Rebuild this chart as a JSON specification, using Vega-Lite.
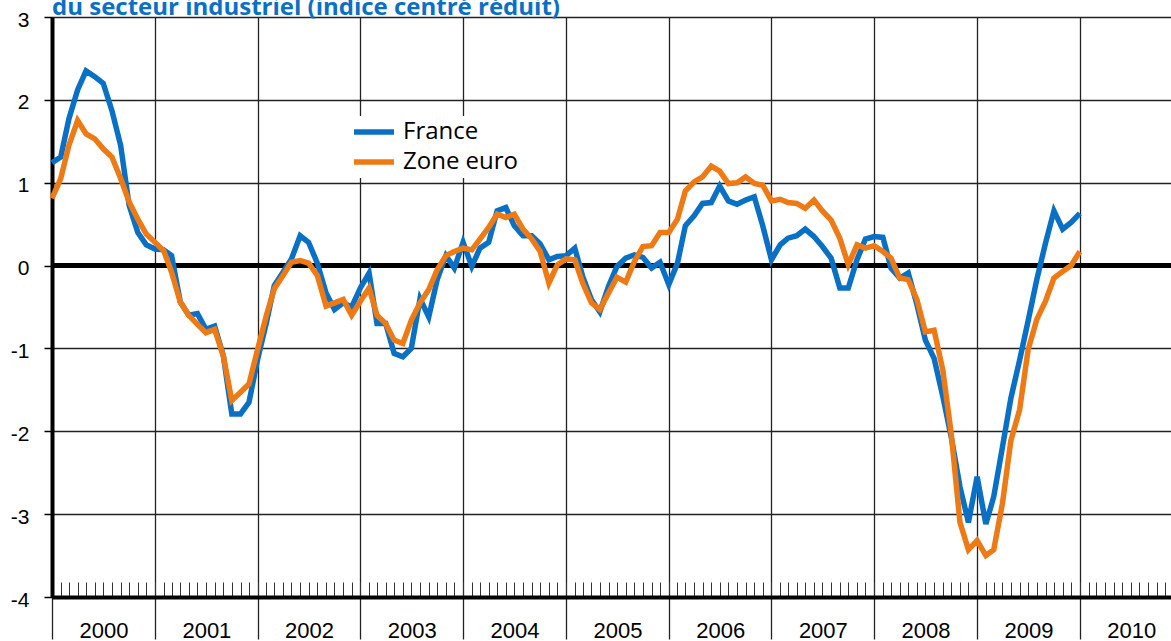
{
  "$schema": "https://vega.github.io/schema/vega-lite/v6.json",
  "width": 1119,
  "height": 580,
  "autosize": "none",
  "padding": {"left": 52, "top": 17, "right": 0, "bottom": 44},
  "background": "white",
  "config": {"view": {"stroke": null}},
  "title": {
    "text": "du secteur industriel (indice centré réduit)",
    "anchor": "start",
    "frame": "group",
    "color": "#0A70C6",
    "font": "Open Sans",
    "fontSize": 24,
    "fontWeight": "bold",
    "offset": 0,
    "dy": 11
  },
  "data": {
    "values": [
      {"d": "2000-01-01", "France": 1.24, "Zone euro": 0.81},
      {"d": "2000-02-01", "France": 1.31, "Zone euro": 1.05},
      {"d": "2000-03-01", "France": 1.77, "Zone euro": 1.45},
      {"d": "2000-04-01", "France": 2.12, "Zone euro": 1.75},
      {"d": "2000-05-01", "France": 2.35, "Zone euro": 1.59},
      {"d": "2000-06-01", "France": 2.28, "Zone euro": 1.53},
      {"d": "2000-07-01", "France": 2.20, "Zone euro": 1.41},
      {"d": "2000-08-01", "France": 1.87, "Zone euro": 1.31},
      {"d": "2000-09-01", "France": 1.45, "Zone euro": 1.05},
      {"d": "2000-10-01", "France": 0.73, "Zone euro": 0.77},
      {"d": "2000-11-01", "France": 0.40, "Zone euro": 0.56},
      {"d": "2000-12-01", "France": 0.25, "Zone euro": 0.38},
      {"d": "2001-01-01", "France": 0.20, "Zone euro": 0.28},
      {"d": "2001-02-01", "France": 0.19, "Zone euro": 0.18},
      {"d": "2001-03-01", "France": 0.12, "Zone euro": -0.08},
      {"d": "2001-04-01", "France": -0.44, "Zone euro": -0.44},
      {"d": "2001-05-01", "France": -0.60, "Zone euro": -0.60},
      {"d": "2001-06-01", "France": -0.58, "Zone euro": -0.71},
      {"d": "2001-07-01", "France": -0.77, "Zone euro": -0.81},
      {"d": "2001-08-01", "France": -0.73, "Zone euro": -0.77},
      {"d": "2001-09-01", "France": -1.09, "Zone euro": -1.09},
      {"d": "2001-10-01", "France": -1.79, "Zone euro": -1.63},
      {"d": "2001-11-01", "France": -1.79, "Zone euro": -1.53},
      {"d": "2001-12-01", "France": -1.65, "Zone euro": -1.43},
      {"d": "2002-01-01", "France": -1.13, "Zone euro": -1.01},
      {"d": "2002-02-01", "France": -0.69, "Zone euro": -0.60},
      {"d": "2002-03-01", "France": -0.24, "Zone euro": -0.28},
      {"d": "2002-04-01", "France": -0.08, "Zone euro": -0.12},
      {"d": "2002-05-01", "France": 0.08, "Zone euro": 0.04},
      {"d": "2002-06-01", "France": 0.36, "Zone euro": 0.06},
      {"d": "2002-07-01", "France": 0.28, "Zone euro": 0.03},
      {"d": "2002-08-01", "France": 0.03, "Zone euro": -0.12},
      {"d": "2002-09-01", "France": -0.33, "Zone euro": -0.49},
      {"d": "2002-10-01", "France": -0.53, "Zone euro": -0.45},
      {"d": "2002-11-01", "France": -0.45, "Zone euro": -0.41},
      {"d": "2002-12-01", "France": -0.50, "Zone euro": -0.60},
      {"d": "2003-01-01", "France": -0.27, "Zone euro": -0.43},
      {"d": "2003-02-01", "France": -0.09, "Zone euro": -0.27},
      {"d": "2003-03-01", "France": -0.70, "Zone euro": -0.60},
      {"d": "2003-04-01", "France": -0.70, "Zone euro": -0.70},
      {"d": "2003-05-01", "France": -1.06, "Zone euro": -0.90},
      {"d": "2003-06-01", "France": -1.10, "Zone euro": -0.94},
      {"d": "2003-07-01", "France": -1.00, "Zone euro": -0.66},
      {"d": "2003-08-01", "France": -0.40, "Zone euro": -0.45},
      {"d": "2003-09-01", "France": -0.62, "Zone euro": -0.29},
      {"d": "2003-10-01", "France": -0.17, "Zone euro": -0.05},
      {"d": "2003-11-01", "France": 0.12, "Zone euro": 0.12},
      {"d": "2003-12-01", "France": -0.03, "Zone euro": 0.17},
      {"d": "2004-01-01", "France": 0.28, "Zone euro": 0.21},
      {"d": "2004-02-01", "France": -0.01, "Zone euro": 0.19},
      {"d": "2004-03-01", "France": 0.21, "Zone euro": 0.32},
      {"d": "2004-04-01", "France": 0.28, "Zone euro": 0.46},
      {"d": "2004-05-01", "France": 0.66, "Zone euro": 0.62},
      {"d": "2004-06-01", "France": 0.70, "Zone euro": 0.58},
      {"d": "2004-07-01", "France": 0.48, "Zone euro": 0.62},
      {"d": "2004-08-01", "France": 0.36, "Zone euro": 0.44},
      {"d": "2004-09-01", "France": 0.36, "Zone euro": 0.32},
      {"d": "2004-10-01", "France": 0.26, "Zone euro": 0.17},
      {"d": "2004-11-01", "France": 0.07, "Zone euro": -0.21},
      {"d": "2004-12-01", "France": 0.11, "Zone euro": 0.01},
      {"d": "2005-01-01", "France": 0.12, "Zone euro": 0.08},
      {"d": "2005-02-01", "France": 0.21, "Zone euro": 0.07},
      {"d": "2005-03-01", "France": -0.13, "Zone euro": -0.21},
      {"d": "2005-04-01", "France": -0.41, "Zone euro": -0.45},
      {"d": "2005-05-01", "France": -0.56, "Zone euro": -0.53},
      {"d": "2005-06-01", "France": -0.25, "Zone euro": -0.33},
      {"d": "2005-07-01", "France": -0.01, "Zone euro": -0.14},
      {"d": "2005-08-01", "France": 0.09, "Zone euro": -0.20},
      {"d": "2005-09-01", "France": 0.13, "Zone euro": 0.05},
      {"d": "2005-10-01", "France": 0.10, "Zone euro": 0.23},
      {"d": "2005-11-01", "France": -0.03, "Zone euro": 0.24},
      {"d": "2005-12-01", "France": 0.04, "Zone euro": 0.40},
      {"d": "2006-01-01", "France": -0.23, "Zone euro": 0.40},
      {"d": "2006-02-01", "France": 0.03, "Zone euro": 0.56},
      {"d": "2006-03-01", "France": 0.48, "Zone euro": 0.90},
      {"d": "2006-04-01", "France": 0.60, "Zone euro": 1.01},
      {"d": "2006-05-01", "France": 0.75, "Zone euro": 1.07},
      {"d": "2006-06-01", "France": 0.76, "Zone euro": 1.20},
      {"d": "2006-07-01", "France": 0.96, "Zone euro": 1.14},
      {"d": "2006-08-01", "France": 0.78, "Zone euro": 0.99},
      {"d": "2006-09-01", "France": 0.74, "Zone euro": 1.00},
      {"d": "2006-10-01", "France": 0.79, "Zone euro": 1.07},
      {"d": "2006-11-01", "France": 0.83, "Zone euro": 0.99},
      {"d": "2006-12-01", "France": 0.48, "Zone euro": 0.97},
      {"d": "2007-01-01", "France": 0.07, "Zone euro": 0.78},
      {"d": "2007-02-01", "France": 0.25, "Zone euro": 0.80},
      {"d": "2007-03-01", "France": 0.33, "Zone euro": 0.76},
      {"d": "2007-04-01", "France": 0.36, "Zone euro": 0.75},
      {"d": "2007-05-01", "France": 0.44, "Zone euro": 0.69},
      {"d": "2007-06-01", "France": 0.35, "Zone euro": 0.79},
      {"d": "2007-07-01", "France": 0.23, "Zone euro": 0.66},
      {"d": "2007-08-01", "France": 0.09, "Zone euro": 0.55},
      {"d": "2007-09-01", "France": -0.27, "Zone euro": 0.33},
      {"d": "2007-10-01", "France": -0.27, "Zone euro": 0.01},
      {"d": "2007-11-01", "France": 0.07, "Zone euro": 0.25},
      {"d": "2007-12-01", "France": 0.32, "Zone euro": 0.21},
      {"d": "2008-01-01", "France": 0.35, "Zone euro": 0.24},
      {"d": "2008-02-01", "France": 0.34, "Zone euro": 0.17},
      {"d": "2008-03-01", "France": -0.03, "Zone euro": 0.09},
      {"d": "2008-04-01", "France": -0.15, "Zone euro": -0.15},
      {"d": "2008-05-01", "France": -0.09, "Zone euro": -0.17},
      {"d": "2008-06-01", "France": -0.47, "Zone euro": -0.41},
      {"d": "2008-07-01", "France": -0.90, "Zone euro": -0.80},
      {"d": "2008-08-01", "France": -1.12, "Zone euro": -0.78},
      {"d": "2008-09-01", "France": -1.58, "Zone euro": -1.26},
      {"d": "2008-10-01", "France": -2.07, "Zone euro": -2.03},
      {"d": "2008-11-01", "France": -2.67, "Zone euro": -3.10},
      {"d": "2008-12-01", "France": -3.10, "Zone euro": -3.43},
      {"d": "2009-01-01", "France": -2.55, "Zone euro": -3.32},
      {"d": "2009-02-01", "France": -3.12, "Zone euro": -3.50},
      {"d": "2009-03-01", "France": -2.79, "Zone euro": -3.43},
      {"d": "2009-04-01", "France": -2.19, "Zone euro": -2.87},
      {"d": "2009-05-01", "France": -1.60, "Zone euro": -2.11},
      {"d": "2009-06-01", "France": -1.14, "Zone euro": -1.74},
      {"d": "2009-07-01", "France": -0.67, "Zone euro": -1.02},
      {"d": "2009-08-01", "France": -0.17, "Zone euro": -0.65},
      {"d": "2009-09-01", "France": 0.27, "Zone euro": -0.43},
      {"d": "2009-10-01", "France": 0.66, "Zone euro": -0.15},
      {"d": "2009-11-01", "France": 0.44, "Zone euro": -0.07},
      {"d": "2009-12-01", "France": 0.52, "Zone euro": 0.00},
      {"d": "2010-01-01", "France": 0.63, "Zone euro": 0.17}
    ]
  },
  "layer": [
    {
      "mark": {"type": "rule", "color": "black", "strokeWidth": 4},
      "encoding": {
        "x": {
          "datum": {"year": 2000, "month": 1, "date": 1, "utc": true},
          "type": "temporal",
          "scale": {"type": "utc", "domain": [{"year": 2000, "month": 1, "date": 1, "utc": true}, {"year": 2010, "month": 11, "date": 21, "utc": true}]},
          "axis": {
            "orient": "bottom",
            "offset": -15,
            "domain": false,
            "grid": false,
            "labels": false,
            "ticks": true,
            "tickCount": {"interval": "month", "step": 1},
            "tickSize": 15,
            "tickColor": "#333333",
            "tickWidth": 1,
            "title": null
          }
        },
        "x2": {"datum": {"year": 2010, "month": 11, "date": 21, "utc": true}},
        "y": {"datum": 0, "type": "quantitative"}
      }
    },
    {
      "transform": [{"fold": ["France", "Zone euro"], "as": ["serie", "valeur"]}],
      "mark": {"type": "line", "strokeWidth": 5.5},
      "encoding": {
        "x": {
          "field": "d",
          "type": "temporal",
          "scale": {"type": "utc", "domain": [{"year": 2000, "month": 1, "date": 1, "utc": true}, {"year": 2010, "month": 11, "date": 21, "utc": true}]},
          "axis": {
            "orient": "bottom",
            "title": null,
            "format": "%Y",
            "formatType": "utc",
            "tickCount": {"interval": "year", "step": 1},
            "domain": true,
            "domainColor": "black",
            "domainWidth": 4,
            "grid": true,
            "gridColor": "#222222",
            "gridWidth": 1.3,
            "ticks": true,
            "tickSize": 42,
            "tickColor": "#222222",
            "tickWidth": 1.3,
            "labelFont": "Liberation Sans",
            "labelFontSize": 22,
            "labelColor": "black",
            "labelBaseline": "top",
            "labelAlign": "center",
            "labelPadding": -19,
            "labelOffset": 51.4,
            "labelFlush": false,
            "labelOverlap": false
          }
        },
        "y": {
          "field": "valeur",
          "type": "quantitative",
          "scale": {"domain": [-4, 3], "nice": false, "zero": false},
          "axis": {
            "title": null,
            "values": [-4, -3, -2, -1, 0, 1, 2, 3],
            "labelExpr": "'' + datum.value",
            "domainColor": "black",
            "domainWidth": 4,
            "grid": true,
            "gridColor": "#222222",
            "gridWidth": 1.3,
            "tickColor": "black",
            "tickSize": 8,
            "tickWidth": 1.5,
            "labelFont": "Liberation Sans",
            "labelFontSize": 21,
            "labelColor": "black",
            "labelPadding": 15,
            "labelOffset": 3
          }
        },
        "color": {
          "field": "serie",
          "type": "nominal",
          "scale": {"domain": ["France", "Zone euro"], "range": ["#0A70C6", "#EE7A16"]},
          "legend": {
            "orient": "none",
            "legendX": 296,
            "legendY": 99,
            "title": null,
            "symbolType": "stroke",
            "symbolSize": 1600,
            "symbolStrokeWidth": 5.5,
            "labelFont": "Open Sans",
            "labelFontSize": 24,
            "labelFontWeight": 500,
            "labelColor": "black",
            "labelOffset": 6,
            "fillColor": "white",
            "padding": 3,
            "clipHeight": 26,
            "rowPadding": 4
          }
        }
      }
    }
  ],
  "resolve": {"axis": {"x": "independent"}}
}
